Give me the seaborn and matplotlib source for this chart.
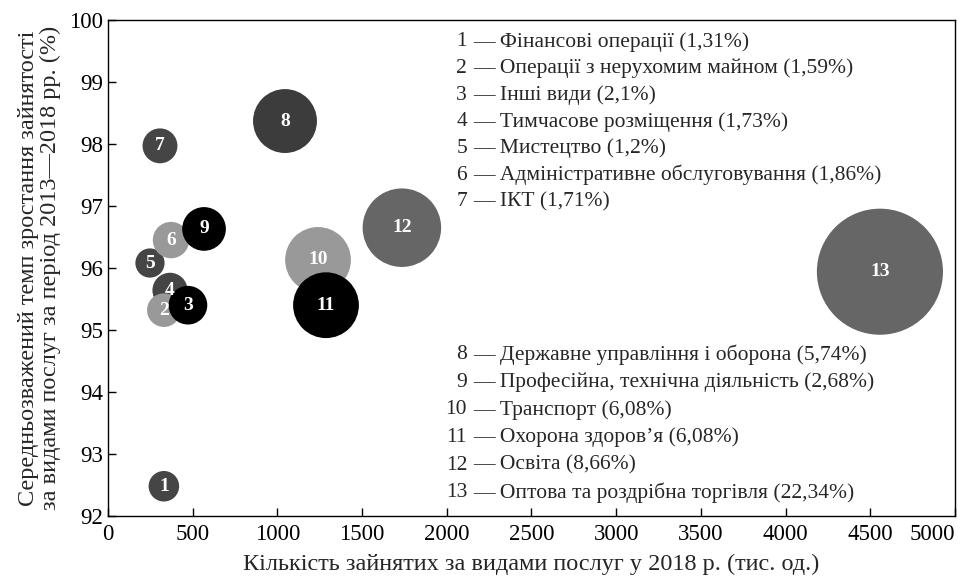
import matplotlib
matplotlib.use("Agg")
import matplotlib.pyplot as plt
import seaborn as sns
import pandas as pd

# -----------------------------
# Дані
# -----------------------------
ids = [str(i) for i in range(1, 14)]
names = [
    "Фінансові операції",
    "Операції з нерухомим майном",
    "Інші види",
    "Тимчасове розміщення",
    "Мистецтво",
    "Адміністративне обслуговування",
    "ІКТ",
    "Державне управління і оборона",
    "Професійна, технічна діяльність",
    "Транспорт",
    "Охорона здоров’я",
    "Освіта",
    "Оптова та роздрібна торгівля",
]
share_labels = ["1,31", "1,59", "2,1", "1,73", "1,2", "1,86", "1,71",
                "5,74", "2,68", "6,08", "6,08", "8,66", "22,34"]
shares = [1.31, 1.59, 2.1, 1.73, 1.2, 1.86, 1.71, 5.74, 2.68, 6.08, 6.08, 8.66, 22.34]
employed = [330, 330, 472, 366, 248, 372, 307, 1045, 567, 1240, 1287, 1735, 4557]
growth = [92.48, 95.32, 95.40, 95.64, 96.08, 96.45, 97.97, 98.37, 96.63, 96.13, 95.40, 96.65, 95.94]
colors = ["#454545", "#999999", "#000000", "#454545", "#454545", "#999999", "#454545",
          "#3c3c3c", "#000000", "#999999", "#000000", "#666666", "#666666"]
# порядок накладання бульбашок (4 під 2 і 3)
draw_order = ["1", "4", "2", "3", "5", "6", "7", "8", "9", "10", "11", "12", "13"]

df = pd.DataFrame({"id": ids, "x": employed, "y": growth, "share": shares})
df = df.set_index("id").loc[draw_order].reset_index()

# -----------------------------
# Стиль
# -----------------------------
sns.set_style("ticks")
plt.rcParams["font.family"] = ["Liberation Serif", "DejaVu Serif"]

fig = plt.figure(figsize=(9.65, 5.79), dpi=100)
ax = fig.add_axes([0.1119, 0.1088, 0.8777, 0.8567])

# площа бульбашки пропорційна частці
K = 369
sns.scatterplot(
    data=df, x="x", y="y", hue="id", size="share",
    palette=dict(zip(ids, colors)),
    sizes=(K * min(shares), K * max(shares)),
    size_norm=(min(shares), max(shares)),
    linewidth=0, alpha=1, legend=False, ax=ax,
)

for i, xv, yv in zip(ids, employed, growth):
    ax.text(xv, yv, i, ha="center", va="center", color="white",
            fontsize=14, fontweight="bold", zorder=5)

ax.set_xlim(0, 5000)
ax.set_ylim(92, 100)
ax.set_xticks(range(0, 5001, 500))
ax.set_yticks(range(92, 101))
ax.tick_params(direction="in", length=6, width=1, labelsize=16.5, colors="black")
ax.tick_params(axis="x", pad=6)
ax.get_xticklabels()[-1].set_horizontalalignment("right")
for sp in ax.spines.values():
    sp.set_linewidth(1)
    sp.set_color("black")

ax.set_xlabel("Кількість зайнятих за видами послуг у 2018 р. (тис. од.)",
              fontsize=17.5, labelpad=6)
ax.set_ylabel("Середньозважений темп зростання зайнятості\n"
              "за видами послуг за період 2013—2018 рр. (%)",
              fontsize=17.5, linespacing=1.05, labelpad=6)

# підписи-легенда
num_x = 0.424
txt_x = 0.431
top_y, top_step = 0.956, 0.0538
bot_y, bot_step = 0.325, 0.0556
for k, (i, nm, sh) in enumerate(zip(ids, names, share_labels)):
    if k < 7:
        yy = top_y - k * top_step
    else:
        yy = bot_y - (k - 7) * bot_step
    ax.text(num_x, yy, i, transform=ax.transAxes, ha="right", va="center", fontsize=15.5)
    ax.text(txt_x, yy, f"— {nm} ({sh}%)", transform=ax.transAxes,
            ha="left", va="center", fontsize=15.5)

fig.savefig("out.png", dpi=100)
